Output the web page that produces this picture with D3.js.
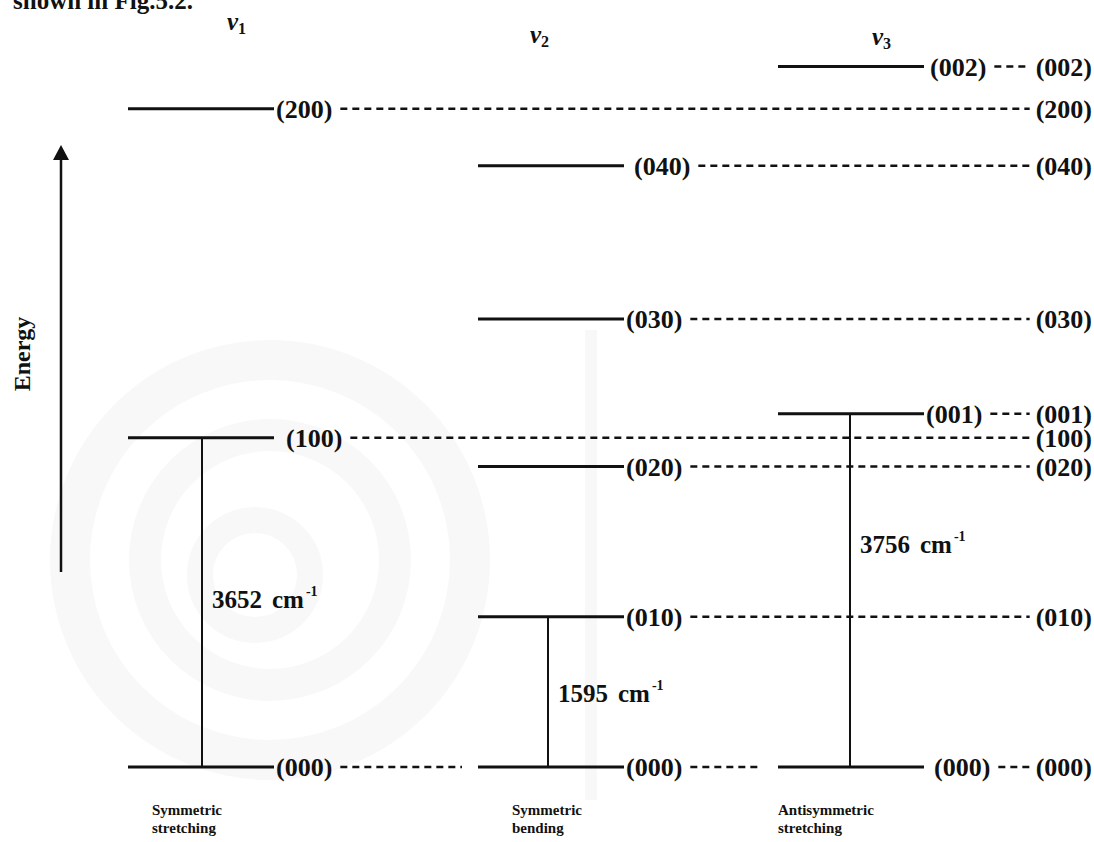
<!DOCTYPE html>
<html>
<head>
<meta charset="utf-8">
<script src="https://cdn.jsdelivr.net/npm/d3@7/dist/d3.min.js"></script>
<style>
  html, body { margin: 0; padding: 0; background: #fff; }
  svg { display: block; }
  text { font-family: "Liberation Serif", "Times New Roman", serif; font-weight: bold; fill: #111; }
</style>
</head>
<body>
<svg id="chart" width="1094" height="842"></svg>
<script>
// Vibrational modes of H2O (columns) and their energy levels (relative units, (010) = 1)
const modes = ["1", "2", "3"];
const modeNames = [["Symmetric", "stretching"], ["Symmetric", "bending"], ["Antisymmetric", "stretching"]];

const levelLabels = ["(000)", "(100)", "(200)", "(000)", "(010)", "(020)", "(030)", "(040)", "(000)", "(001)", "(002)"];
const levelMode   = [0, 0, 0, 1, 1, 1, 1, 1, 2, 2, 2];
const levelValue  = [0, 2.19, 4.38, 0, 1, 2, 2.98, 4, 0, 2.35, 4.66];

// Combined column on the right
const combinedLabels = ["(002)", "(200)", "(040)", "(030)", "(001)", "(100)", "(020)", "(010)", "(000)"];
const combinedValue  = [4.66, 4.38, 4, 2.98, 2.35, 2.19, 2, 1, 0];

// Fundamental transitions
const transitionMode = [0, 1, 2];
const transitionFrom = [0, 0, 0];
const transitionTo   = [2.19, 1, 2.35];
const transitionWavenumber = [3652, 1595, 3756];

const svg = d3.select("#chart");

// ---- faint background emblem ----
const wm = svg.append("g").attr("fill", "none").attr("stroke", "#f8f8f8");
wm.append("circle").attr("cx", 270).attr("cy", 560).attr("r", 200).attr("stroke-width", 40);
wm.append("circle").attr("cx", 270).attr("cy", 560).attr("r", 125).attr("stroke-width", 32);
wm.append("circle").attr("cx", 255).attr("cy", 575).attr("r", 55).attr("stroke-width", 26);
wm.append("rect").attr("x", 585).attr("y", 330).attr("width", 12).attr("height", 470)
  .attr("fill", "#f8f8f8").attr("stroke", "none");

// ---- scales ----
const y = d3.scaleLinear().domain([0, 5]).range([767, 767 - 5 * 150.3]);
const colStart = d3.scaleOrdinal().domain([0, 1, 2]).range([128, 478, 778]);
const lineLen = 146;
const rightEdge = 1092;

// running text fragment at the top
svg.append("text").attr("x", 13).attr("y", 9).attr("font-size", 25).text("shown in Fig.5.2.");

// mode headers
const headerX = [227, 530, 872], headerY = [30, 43, 45];
modes.forEach((m, i) => {
  const t = svg.append("text").attr("x", headerX[i]).attr("y", headerY[i]).attr("font-size", 25);
  t.append("tspan").attr("font-style", "italic").text("ν");
  t.append("tspan").attr("font-size", 16).attr("dy", 4).text(m);
});

// energy axis
const axisX = 61;
svg.append("line").attr("x1", axisX).attr("x2", axisX).attr("y1", 572).attr("y2", 158)
  .attr("stroke", "#111").attr("stroke-width", 2.5);
svg.append("path").attr("d", `M${axisX - 8},${160} L${axisX},${145} L${axisX + 8},${160} Z`).attr("fill", "#111");
svg.append("text").attr("transform", `translate(30,354) rotate(-90)`).attr("text-anchor", "middle")
  .attr("font-size", 24).text("Energy");

// right-hand combined labels
const combined = svg.append("g");
const combinedStart = {};
combinedLabels.forEach((lab, i) => {
  const t = combined.append("text").attr("x", rightEdge).attr("y", y(combinedValue[i]))
    .attr("dy", "0.35em").attr("text-anchor", "end").attr("font-size", 26).text(lab);
  combinedStart[lab] = rightEdge - t.node().getComputedTextLength();
});

// levels
const levels = levelLabels.map((lab, i) => ({ lab, mode: levelMode[i], v: levelValue[i] }));
// a few labels sit a little further from their line
const labelGap = { "0(100)": 12, "1(040)": 10, "2(000)": 10, "2(002)": 6 };
levels.forEach(d => {
  const x0 = colStart(d.mode), x1 = x0 + lineLen, yy = y(d.v);
  const gap = labelGap[d.mode + d.lab] || 2;
  svg.append("line").attr("x1", x0).attr("x2", x1).attr("y1", yy).attr("y2", yy)
    .attr("stroke", "#111").attr("stroke-width", 3);
  const t = svg.append("text").attr("x", x1 + gap).attr("y", yy).attr("dy", "0.35em")
    .attr("font-size", 26).text(d.lab);
  const labEnd = x1 + gap + t.node().getComputedTextLength();
  // dashed correlation line to the next column holding this level, or to the combined column
  const next = levels.find(o => o.lab === d.lab && o.mode > d.mode);
  const target = next ? colStart(next.mode) - 16 : combinedStart[d.lab] - 6;
  svg.append("line").attr("x1", labEnd + 8).attr("x2", target).attr("y1", yy).attr("y2", yy)
    .attr("stroke", "#111").attr("stroke-width", 2.5).attr("stroke-dasharray", "7,5");
});

// transitions
const labelFrac = [0.51, 0.49, 0.63];
const arrowX = [202, 548, 850];
transitionMode.forEach((m, i) => {
  const x = arrowX[i];
  svg.append("line").attr("x1", x).attr("x2", x).attr("y1", y(transitionFrom[i])).attr("y2", y(transitionTo[i]))
    .attr("stroke", "#111").attr("stroke-width", 2);
  const ly = y(transitionFrom[i]) + (y(transitionTo[i]) - y(transitionFrom[i])) * labelFrac[i];
  const t = svg.append("text").attr("x", x + 10).attr("y", ly).attr("dy", "0.35em").attr("font-size", 25);
  t.append("tspan").text(transitionWavenumber[i]);
  t.append("tspan").attr("dx", 10).text("cm");
  t.append("tspan").attr("font-size", 14).attr("dy", -12).attr("dx", 2).text("-1");
});

// mode names under the ground state
const nameX = [152, 512, 778];
modeNames.forEach((lines, i) => {
  const t = svg.append("text").attr("x", nameX[i]).attr("y", 815).attr("font-size", 15);
  lines.forEach((s, j) => t.append("tspan").attr("x", nameX[i]).attr("dy", j ? 18 : 0).text(s));
});
</script>
</body>
</html>
